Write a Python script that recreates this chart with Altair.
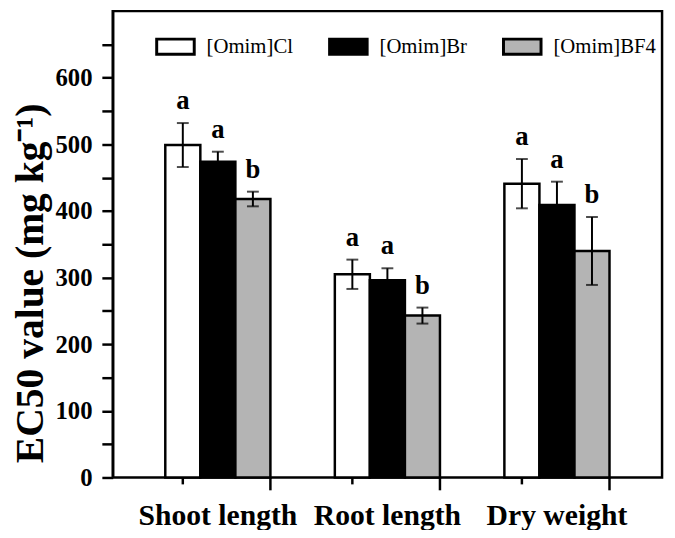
import altair as alt
import pandas as pd

categories = ["Shoot length", "Root length", "Dry weight"]
series = ["[Omim]Cl", "[Omim]Br", "[Omim]BF4"]
colors = ["#ffffff", "#000000", "#b4b4b4"]

cl_values = [499, 305, 441]
cl_err = [33, 22, 37]
br_values = [474, 296, 409]
br_err = [15, 18, 35]
bf4_values = [418, 243, 340]
bf4_err = [11, 12, 51]
cl_letters = ["a", "a", "a"]
br_letters = ["a", "a", "a"]
bf4_letters = ["b", "b", "b"]

y_ticks = list(range(0, 700, 50))

rows = []
for s, vals, errs, lets in [
    (series[0], cl_values, cl_err, cl_letters),
    (series[1], br_values, br_err, br_letters),
    (series[2], bf4_values, bf4_err, bf4_letters),
]:
    for c, v, e, l in zip(categories, vals, errs, lets):
        rows.append({"category": c, "series": s, "value": v, "lo": v - e, "hi": v + e, "letter": l})
df = pd.DataFrame(rows)
df_cl = df[df["series"] == series[0]]
df_cat = pd.DataFrame({"category": categories})

FONT = "Liberation Serif"

x_scale = alt.Scale(domain=categories, paddingInner=0.38, paddingOuter=0.31)
x_axis = alt.Axis(title=None, labelAngle=0, ticks=False, domain=False)
xo_scale = alt.Scale(domain=series, paddingInner=0, paddingOuter=0)
y_scale = alt.Scale(domain=[0, 700], nice=False, zero=True)
y_axis = alt.Axis(title="EC50 value (mg kg\u207b\u00b9)", values=y_ticks,
                  labelExpr="datum.value % 100 == 0 ? datum.label : ''",
                  labelFont=FONT, labelFontWeight=700, labelFontSize=25,
                  grid=False, titleY=275)

X = alt.X("category:N", scale=x_scale, axis=x_axis, sort=categories)
XO = alt.XOffset("series:N", scale=xo_scale, sort=series)

bars = alt.Chart(df).mark_bar(stroke="black", strokeWidth=2.5).encode(
    x=X,
    xOffset=XO,
    y=alt.Y("value:Q", scale=y_scale, axis=y_axis),
    fill=alt.Fill("series:N", sort=series,
                  scale=alt.Scale(domain=series, range=colors),
                  legend=alt.Legend(title=None, orient="none", legendX=43, legendY=15,
                                    direction="horizontal", padding=0,
                                    symbolType="M-1,-0.4H1V0.4H-1Z", symbolSize=1444,
                                    symbolStrokeColor="black", symbolStrokeWidth=3,
                                    symbolOpacity=1,
                                    labelFont=FONT, labelFontSize=21, labelColor="black",
                                    labelFontWeight="normal",
                                    labelOffset=11, columnPadding=30)),
)

err = alt.Chart(df).mark_rule(color="black", strokeWidth=2).encode(
    x=X, xOffset=XO,
    y=alt.Y("lo:Q", scale=y_scale, axis=y_axis), y2="hi:Q",
)
cap_hi = alt.Chart(df).mark_tick(color="black", size=12, thickness=2).encode(
    x=X, xOffset=XO, y=alt.Y("hi:Q", scale=y_scale, axis=y_axis),
)
cap_lo = alt.Chart(df).mark_tick(color="black", size=12, thickness=2).encode(
    x=X, xOffset=XO, y=alt.Y("lo:Q", scale=y_scale, axis=y_axis),
)
letters = alt.Chart(df).mark_text(font=FONT, fontSize=27, fontWeight="bold",
                                  color="black", baseline="alphabetic", dy=-14).encode(
    x=X, xOffset=XO, y=alt.Y("hi:Q", scale=y_scale, axis=y_axis), text="letter:N",
)

major_ticks = alt.Chart(df_cat).mark_rule(color="black", strokeWidth=2.5).encode(
    x=alt.X("category:N", scale=x_scale, axis=x_axis, sort=categories, bandPosition=1),
    y=alt.value(472), y2=alt.value(485),
)
minor_ticks = alt.Chart(df_cl).mark_rule(color="black", strokeWidth=2.5).encode(
    x=X, xOffset=XO,
    y=alt.value(472), y2=alt.value(479),
)

chart = alt.layer(bars, err, cap_hi, cap_lo, letters, major_ticks, minor_ticks).properties(
    width=556, height=472,
    autosize=alt.AutoSizeParams(type="none"),
    padding={"left": 106, "top": 0, "right": 5, "bottom": 50},
    background="white",
).configure_view(
    stroke="black", strokeWidth=2.5
).configure_axisX(
    labelFont=FONT, labelFontSize=30, labelFontWeight="bold",
    labelColor="black", labelPadding=24, labelAngle=0,
).configure_axisY(
    tickSize=11, tickWidth=2.5, tickColor="black",
    domainColor="black", domainWidth=2.5,
    labelFont=FONT, labelFontSize=25, labelFontWeight="bold",
    labelColor="black", labelPadding=10,
    titleFont=FONT, titleFontSize=40, titleFontWeight="bold",
    titleColor="black", titlePadding=5,
)

chart.save("out.html", embed_options={"renderer": "svg", "actions": False})
